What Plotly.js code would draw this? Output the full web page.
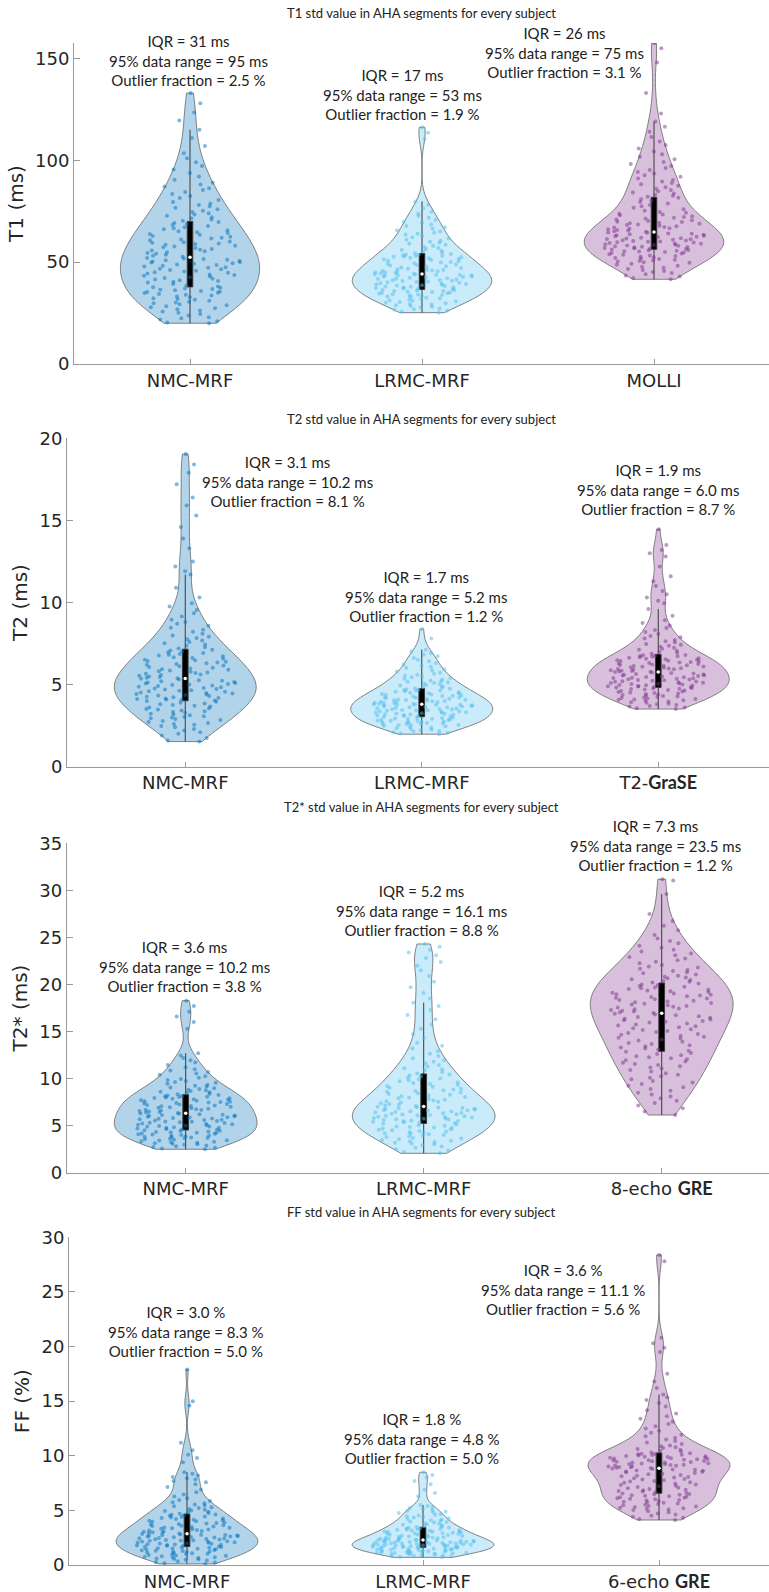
<!DOCTYPE html>
<html>
<head>
<meta charset="utf-8">
<script src="https://cdn.plot.ly/plotly-3.0.1.min.js"></script>
<style>
html,body{margin:0;padding:0;background:#ffffff;overflow:hidden;}
#chart{width:769px;height:1592px;}
</style>
</head>
<body>
<div id="chart"></div>
<script>
// ---------------- DATA ----------------
const panelTitles = [
  'T1 std value in AHA segments for every subject',
  'T2 std value in AHA segments for every subject',
  'T2* std value in AHA segments for every subject',
  'FF std value in AHA segments for every subject'
];
const yTitles = ['T1 (ms)', 'T2 (ms)', 'T2* (ms)', 'FF (%)'];

const t1Categories  = ['NMC-MRF', 'LRMC-MRF', 'MOLLI'];
const t2Categories  = ['NMC-MRF', 'LRMC-MRF', 'T2-<span style="font-family:Lato;font-weight:700">GraSE</span>'];
const t2sCategories = ['NMC-MRF', 'LRMC-MRF', '8-echo <span style="font-family:Lato;font-weight:700">GRE</span>'];
const ffCategories  = ['NMC-MRF', 'LRMC-MRF', '6-echo <span style="font-family:Lato;font-weight:700">GRE</span>'];

// summary statistics printed above each violin
const t1IQR = ['31 ms', '17 ms', '26 ms'];
const t1Range95 = ['95 ms', '53 ms', '75 ms'];
const t1Outlier = ['2.5 %', '1.9 %', '3.1 %'];
const t2IQR = ['3.1 ms', '1.7 ms', '1.9 ms'];
const t2Range95 = ['10.2 ms', '5.2 ms', '6.0 ms'];
const t2Outlier = ['8.1 %', '1.2 %', '8.7 %'];
const t2sIQR = ['3.6 ms', '5.2 ms', '7.3 ms'];
const t2sRange95 = ['10.2 ms', '16.1 ms', '23.5 ms'];
const t2sOutlier = ['3.8 %', '8.8 %', '1.2 %'];
const ffIQR = ['3.0 %', '1.8 %', '3.6 %'];
const ffRange95 = ['8.3 %', '4.8 %', '11.1 %'];
const ffOutlier = ['5.0 %', '5.0 %', '5.6 %'];

// per-segment std values (160 AHA segments per method)
const t1NMC = [20,20.4,21,21.8,22.5,23,23.8,24.6,
25.2,25.8,26.3,26.9,27.4,27.9,28.3,28.8,29.3,29.8,
30.2,30.6,31,31.5,31.9,32.3,32.8,33.2,33.6,34,34.4,34.8,
35,35.3,35.6,35.9,36.2,36.5,36.8,37.1,37.4,37.7,38,38.6,39.3,
40,40.4,40.7,41.1,41.5,41.8,42.2,42.6,43,43.3,43.7,44,44.4,44.8,
45.1,45.4,45.8,46.1,46.5,46.8,47.2,47.5,47.9,48.2,48.6,48.9,49.2,49.5,49.8,
50.1,50.3,50.6,50.9,51.2,51.5,51.8,52.1,52.6,53.1,53.6,54.1,54.5,54.9,
55.3,55.7,56.1,56.5,56.9,57.3,57.7,58.1,58.5,58.9,59.2,59.5,59.8,
60.2,60.7,61.1,61.6,62,62.5,62.9,63.4,63.8,64.3,64.7,
65.2,65.7,66.2,66.7,67.2,67.7,68.2,68.7,69.2,69.7,
70.3,70.9,71.5,72.1,72.8,73.4,74,74.6,
75.3,76,76.7,77.4,78.1,78.8,79.5,
80.5,81.5,82.5,83.5,84.5,
85.4,86.3,87.2,88.1,89,
90.5,92,93.8,
95.5,97.2,99,
101,103.5,
107,
111,115,
119.5,123.5,128,133];

const t1LRMC = [25.2,25.7,26.1,26.6,26.9,27.3,27.8,28.1,28.5,28.9,29.2,29.5,29.8,
30.1,30.4,30.8,31,31.3,31.7,31.9,32.2,32.5,32.9,33.1,33.4,33.6,33.9,34.1,34.3,34.6,34.7,34.9,
35.1,35.3,35.5,35.8,35.9,36.1,36.3,36.5,
36.7,36.9,37.1,37.3,37.5,37.7,37.9,38.1,38.3,38.5,38.7,38.9,39.1,39.3,39.5,39.7,39.9,40.1,40.3,40.5,
40.7,40.9,41.1,41.3,41.5,41.7,41.9,42.1,42.3,42.5,42.7,42.9,43.1,43.3,43.5,43.6,43.7,43.8,43.9,44.1,
44.3,44.5,44.7,44.9,45.1,45.3,45.5,45.7,45.9,46.1,46.3,46.5,
46.8,47.1,47.4,47.7,48,48.3,48.6,48.9,49.2,49.5,49.8,50.1,50.4,50.7,51,51.3,51.6,51.9,52.2,
52.4,52.6,52.8,53,53.2,53.4,53.6,53.8,54,
54.4,54.8,55.2,55.6,56,56.5,57,57.5,58,58.5,59,59.5,60,
60.5,61,61.6,62.2,62.8,63.4,64,64.5,65,
65.7,66.4,67.1,67.8,68.5,69.2,69.9,
70.8,71.8,72.8,73.8,74.8,
76.5,78.2,79.8,
110.5,113.5,116.2];

const t1MOLLI = [41.6,42.2,42.9,43.5,44.1,44.7,
45.2,45.7,46.2,46.7,47.2,47.7,48.2,48.7,49.2,49.7,
50,50.3,50.6,50.9,51.2,51.5,51.8,52.1,52.4,52.7,53,53.3,53.6,53.9,54.2,54.5,54.8,
55,55.2,55.4,55.6,55.8,56,56.2,
56.4,56.6,56.8,57,57.2,57.4,57.6,57.8,58,58.2,58.4,58.6,58.8,59,59.2,59.4,59.6,59.8,
60,60.2,60.4,60.6,60.8,61,61.2,61.4,61.6,61.8,62,62.3,62.5,62.7,63,63.2,63.4,63.7,63.9,64.1,64.4,64.6,
64.9,65.2,65.5,65.8,66.1,66.4,66.7,67,67.3,67.6,67.9,68.2,68.5,68.8,69.1,69.4,69.7,69.9,
70.2,70.6,71,71.4,71.8,72.2,72.6,73,73.4,73.8,74.2,74.6,
75.3,76,76.7,77.4,78.1,78.8,79.5,80.2,80.9,81.6,
82.1,82.6,83.1,83.7,84.2,84.8,
85.4,86.1,86.8,87.5,88.2,88.9,89.6,
90.3,91.1,91.9,92.7,93.5,94.3,
95.2,96.2,97.2,98.2,99.2,
100.5,101.8,103,104.3,
105.8,107.5,109.2,
111.5,114,116.5,119,
123,133,148,155,157.5];

const t2NMC = [1.53,1.6,1.75,1.9,2.0,2.1,2.2,2.3,2.4,2.48,
2.55,2.6,2.66,2.72,2.78,2.84,2.9,2.95,2.99,
3.03,3.08,3.13,3.18,3.23,3.28,3.33,3.38,3.43,3.48,
3.52,3.56,3.61,3.66,3.71,3.76,3.8,3.85,3.9,3.95,4.0,
4.03,4.06,4.09,4.12,4.16,4.19,4.23,4.26,4.3,4.33,4.37,4.4,4.43,4.46,4.49,
4.52,4.56,4.59,4.63,4.66,4.7,4.73,4.77,4.8,4.84,4.87,4.91,4.94,4.98,
5.01,5.04,5.07,5.1,5.13,5.16,5.2,5.23,5.27,5.31,5.35,
5.38,5.42,5.46,5.5,5.54,5.58,5.62,5.66,5.7,5.74,5.78,5.82,5.86,5.9,5.94,5.98,
6.03,6.07,6.12,6.16,6.21,6.25,6.3,6.34,6.39,6.43,6.48,
6.52,6.57,6.62,6.67,6.72,6.77,6.82,6.87,6.92,6.97,7.02,7.07,7.12,
7.2,7.28,7.36,7.44,7.52,7.6,7.68,7.76,7.84,7.92,7.99,
8.1,8.22,8.34,8.46,8.58,8.7,8.82,8.95,
9.15,9.35,9.55,9.75,9.95,
10.3,10.9,11.7,
11.9,12.2,12.5,13.3,13.9,14.6,15.3,15.9,16.4,17.2,17.9,18.4,19.04];

const t2LRMC = [1.98,2.02,2.06,2.1,2.14,2.18,2.22,2.26,2.3,2.34,2.38,2.42,2.46,2.49,
2.52,2.54,2.56,2.58,2.6,2.62,2.64,2.66,2.68,2.7,2.72,2.74,2.76,2.78,2.8,2.82,2.84,2.86,2.88,2.9,2.92,2.94,2.96,2.98,3.0,3.03,
3.06,3.08,3.1,3.12,3.14,3.16,3.18,3.2,3.22,3.24,3.26,3.28,3.3,3.32,3.34,3.36,3.38,3.4,3.42,3.44,
3.46,3.48,3.5,3.52,3.54,3.56,3.58,3.6,3.62,3.64,3.66,3.68,3.7,3.72,3.74,3.76,3.77,3.78,3.79,3.8,
3.82,3.84,3.86,3.88,3.9,3.92,3.94,3.96,3.98,4.0,4.02,4.04,4.06,4.08,4.1,4.12,4.14,4.17,4.2,4.22,4.24,
4.27,4.3,4.32,4.35,4.38,4.4,4.43,4.46,4.48,4.51,4.54,4.56,4.59,4.62,4.64,4.67,4.7,4.72,4.74,
4.78,4.82,4.86,4.9,4.94,4.98,5.02,5.06,5.1,5.14,5.18,5.21,5.24,
5.3,5.35,5.4,5.45,5.5,5.55,5.6,5.66,5.72,
5.8,5.87,5.94,6.01,6.08,6.15,6.22,
6.32,6.42,6.52,6.62,6.72,
6.82,6.92,7.02,7.13,
7.8,8.39];

const t2GraSE = [3.51,3.56,3.61,3.66,3.7,3.75,3.8,3.84,3.89,3.93,3.97,
4.01,4.04,4.07,4.1,4.13,4.16,4.19,4.22,4.25,4.28,4.31,4.34,4.37,4.4,4.43,4.46,4.49,4.52,4.55,4.58,4.61,4.64,4.67,4.7,4.73,4.75,4.77,4.79,4.82,
4.84,4.86,4.88,4.9,4.92,4.94,4.96,4.98,5.0,5.03,5.05,5.07,5.1,5.12,5.14,5.17,5.19,5.21,5.24,5.26,
5.28,5.31,5.33,5.35,5.38,5.4,5.42,5.45,5.47,5.5,5.52,5.55,5.57,5.6,5.62,5.65,5.68,5.71,5.73,5.76,
5.78,5.8,5.83,5.85,5.88,5.9,5.93,5.95,5.98,6.0,6.03,6.05,6.08,6.1,6.13,6.15,6.18,6.2,6.23,6.25,
6.28,6.31,6.34,6.37,6.4,6.43,6.46,6.49,6.52,6.55,6.58,6.61,6.64,6.67,6.7,6.72,6.74,6.76,6.78,6.81,
6.88,6.94,7.0,7.06,7.12,7.18,7.24,7.3,7.36,7.42,7.48,
7.56,7.64,7.72,7.8,7.88,7.96,
8.08,8.2,8.32,8.45,
8.6,8.75,8.92,
9.2,9.6,
9.95,10.1,10.3,10.5,10.7,11.0,11.3,11.6,12.2,12.8,13.0,13.2,13.5,14.46];

const t2sNMC = [2.49,2.56,2.64,2.72,2.8,2.88,2.96,
3.02,3.08,3.13,3.19,3.24,3.3,3.35,3.41,3.46,
3.51,3.56,3.6,3.65,3.69,3.74,3.78,3.83,3.87,3.92,3.96,
4.01,4.05,4.09,4.13,4.17,4.21,4.25,4.29,4.33,4.37,4.42,4.47,4.52,
4.56,4.6,4.65,4.69,4.74,4.78,4.83,4.87,4.92,4.96,
5.0,5.05,5.09,5.14,5.18,5.23,5.27,5.32,5.36,5.41,
5.45,5.5,5.54,5.59,5.63,5.68,5.72,5.77,5.81,5.86,
5.9,5.95,5.99,6.04,6.08,6.13,6.17,6.22,6.26,6.3,
6.35,6.4,6.45,6.5,6.55,6.6,6.65,6.7,6.75,6.8,
6.85,6.9,6.95,7.0,7.05,7.1,7.15,7.2,7.25,7.3,
7.35,7.4,7.45,7.5,7.55,7.6,7.65,7.7,7.75,7.8,
7.85,7.9,7.95,8.0,8.04,8.08,8.12,8.16,8.2,8.25,
8.33,8.4,8.47,8.54,8.61,8.68,8.75,8.82,8.89,8.96,
9.05,9.15,9.25,9.35,9.45,9.55,9.65,9.75,9.85,9.95,
10.1,10.25,10.4,10.55,10.7,10.85,10.98,
11.2,11.45,11.7,11.95,
12.2,12.45,12.69,
15.3,16.0,16.6,17.1,17.7,18.28];

const t2sLRMC = [2.06,2.2,2.35,2.5,2.64,2.78,2.92,
3.03,3.1,3.18,3.25,3.33,3.4,3.48,3.55,3.63,3.7,3.78,3.86,3.94,
4.02,4.08,4.14,4.2,4.26,4.32,4.38,4.44,4.5,4.56,4.62,4.68,4.74,4.8,4.86,4.92,4.98,5.05,5.12,5.2,
5.28,5.32,5.37,5.41,5.46,5.5,5.55,5.59,5.64,5.68,
5.73,5.77,5.82,5.86,5.91,5.95,6.0,6.04,6.09,6.13,
6.18,6.22,6.27,6.31,6.36,6.4,6.45,6.49,6.54,6.58,
6.63,6.67,6.72,6.76,6.8,6.84,6.88,6.92,6.96,7.0,
7.08,7.15,7.23,7.3,7.38,7.45,7.53,7.6,7.68,7.75,7.83,7.9,7.97,
8.04,8.12,8.2,8.28,8.36,8.44,8.52,8.6,8.68,8.76,8.84,8.92,
9.02,9.12,9.22,9.32,9.42,9.52,9.62,9.72,9.82,9.92,10.02,10.12,10.22,10.32,10.44,
10.55,10.7,10.85,10.98,
11.1,11.28,11.45,11.62,11.8,11.96,
12.15,12.4,12.65,12.9,
13.2,13.5,13.8,
14.3,14.75,
15.3,15.75,
16.3,16.75,
17.3,17.7,18.07,
18.5,19.1,19.7,20.3,20.9,21.5,22.0,22.4,22.8,23.1,23.4,23.7,24.0,24.3];

const t2sGRE = [6.13,6.5,6.85,
7.15,7.4,7.65,7.9,
8.1,8.3,8.5,8.7,8.9,
9.08,9.25,9.42,9.58,9.75,9.92,
10.08,10.25,10.42,10.58,10.75,10.92,
11.06,11.19,11.31,11.44,11.56,11.69,11.81,11.94,
12.05,12.16,12.27,12.38,12.49,12.6,12.71,12.85,
12.95,13.07,13.19,13.31,13.43,13.55,13.67,13.79,13.92,
14.05,14.15,14.25,14.35,14.45,14.55,14.65,14.75,14.85,14.95,
15.05,15.15,15.25,15.35,15.45,15.55,15.65,15.75,15.85,15.95,
16.03,16.12,16.2,16.29,16.37,16.46,16.55,16.63,16.72,16.8,16.9,
16.98,17.06,17.14,17.22,17.3,17.38,17.46,17.54,17.62,17.7,17.78,17.86,17.94,
18.02,18.1,18.18,18.26,18.34,18.42,18.5,18.58,18.66,18.74,18.82,18.9,18.97,
19.05,19.13,19.21,19.29,19.37,19.45,19.53,19.61,19.69,19.77,19.85,19.93,20.01,20.1,
20.2,20.29,20.38,20.47,20.56,20.65,20.74,20.83,20.93,
21.06,21.18,21.3,21.42,21.55,21.68,21.8,21.92,
22.08,22.25,22.42,22.58,22.75,22.92,
23.1,23.3,23.5,23.7,23.9,
24.12,24.38,24.62,24.88,
25.25,25.75,
26.25,26.75,
27.5,
29.6,
31.05,31.18];

const ffNMC = [0.1,0.15,0.22,0.28,0.35,0.41,0.47,
0.52,0.56,0.6,0.64,0.68,0.72,0.76,0.8,0.84,0.88,0.92,0.97,
1.01,1.04,1.08,1.11,1.14,1.18,1.21,1.24,1.28,1.31,1.34,1.38,1.41,1.44,1.48,1.51,1.54,1.58,1.61,1.64,1.67,
1.7,1.73,1.76,1.79,1.82,1.85,1.88,1.91,1.94,1.97,
2.0,2.03,2.06,2.09,2.12,2.15,2.18,2.21,2.24,2.27,
2.3,2.33,2.36,2.39,2.42,2.45,2.48,2.51,2.54,2.57,
2.6,2.62,2.65,2.67,2.7,2.72,2.75,2.77,2.8,2.83,
2.88,2.92,2.96,3.0,3.04,3.08,3.12,3.16,3.2,3.24,
3.28,3.32,3.36,3.4,3.44,3.48,3.52,3.56,3.6,3.65,
3.7,3.75,3.8,3.85,3.9,3.95,4.0,4.05,4.1,4.15,
4.2,4.25,4.3,4.35,4.4,4.45,4.5,4.55,4.59,4.63,
4.7,4.76,4.82,4.88,4.94,4.99,
5.05,5.13,5.21,5.29,5.37,5.45,
5.55,5.65,5.75,5.85,5.95,
6.1,6.28,6.45,
6.65,6.9,
7.15,7.4,
7.58,7.7,7.82,7.94,
8.06,8.2,8.35,8.49,
9.4,9.8,10.1,10.5,11.2,14.6,15.0,17.9];

const ffLRMC = [0.7,0.74,0.78,0.81,0.85,0.88,0.92,0.95,0.98,
1.01,1.03,1.05,1.07,1.09,1.11,1.13,1.15,1.17,1.19,
1.21,1.23,1.25,1.27,1.29,1.31,1.33,1.35,1.37,1.39,
1.41,1.43,1.45,1.47,1.49,1.51,1.53,1.55,1.57,1.59,1.61,
1.63,1.65,1.66,1.68,1.7,1.71,1.73,1.75,1.76,1.78,
1.8,1.81,1.83,1.85,1.86,1.88,1.9,1.91,1.93,1.95,
1.96,1.98,2.0,2.01,2.03,2.05,2.06,2.08,2.1,2.11,
2.13,2.15,2.16,2.18,2.2,2.21,2.23,2.25,2.26,2.28,
2.31,2.34,2.36,2.39,2.41,2.44,2.46,2.49,2.51,2.54,
2.56,2.59,2.62,2.65,2.68,2.71,2.74,2.77,2.8,2.83,
2.86,2.89,2.92,2.95,2.98,3.01,3.04,3.07,3.1,3.13,
3.16,3.19,3.22,3.25,3.28,3.31,3.34,3.37,3.4,3.44,
3.48,3.53,3.58,3.63,3.68,3.73,3.78,3.83,3.88,3.93,3.98,
4.04,4.1,4.16,4.22,4.28,4.34,4.4,4.46,
4.54,4.61,4.68,4.75,4.82,4.89,4.96,
5.06,5.14,5.22,5.3,5.4,5.49,
6.3,6.6,6.9,7.4,7.7,8.0,8.25,8.49];

const ffGRE = [4.12,4.22,4.32,4.42,4.52,4.62,4.72,4.82,4.92,
5.03,5.08,5.14,5.19,5.25,5.3,5.36,5.41,5.47,5.52,5.58,5.63,5.69,5.74,5.8,5.85,5.91,5.96,
6.02,6.06,6.11,6.15,6.2,6.24,6.29,6.33,6.38,6.42,6.47,6.51,6.55,
6.6,6.66,6.72,6.78,6.84,6.9,6.96,7.02,7.08,7.14,7.2,7.26,7.32,7.38,7.45,
7.52,7.58,7.64,7.7,7.76,7.82,7.88,7.94,8.0,8.06,8.12,8.18,8.24,8.3,8.36,8.42,8.48,
8.53,8.57,8.62,8.66,8.71,8.75,8.79,8.84,
8.87,8.9,8.94,8.97,9.01,9.04,9.08,9.11,9.15,9.18,
9.22,9.25,9.29,9.32,9.36,9.39,9.43,9.46,9.5,9.53,
9.57,9.6,9.64,9.67,9.71,9.74,9.78,9.81,9.85,9.88,
9.92,9.95,9.99,10.02,10.06,10.09,10.13,10.16,10.19,10.22,
10.3,10.38,10.46,10.54,10.62,10.7,10.78,10.86,10.95,
11.08,11.22,11.36,11.5,11.64,11.78,11.92,
12.1,12.3,12.5,12.7,12.9,
13.12,13.38,13.62,13.88,
14.17,14.5,14.83,
15.1,15.35,15.6,
16.2,16.8,17.5,19.5,19.9,20.3,20.8,27.8,28.39];

// ---------------- STYLE / LAYOUT ----------------
const methodColors = ['#0072BD', '#4DBEEE', '#7E2F8E'];
const fillColors = ['rgba(0,114,189,0.30)', 'rgba(77,190,238,0.30)', 'rgba(126,47,142,0.30)'];

const panels = [
  {cats: t1Categories,  series: [t1NMC, t1LRMC, t1MOLLI],  iqr: t1IQR,  r95: t1Range95,  out: t1Outlier},
  {cats: t2Categories,  series: [t2NMC, t2LRMC, t2GraSE],  iqr: t2IQR,  r95: t2Range95,  out: t2Outlier},
  {cats: t2sCategories, series: [t2sNMC, t2sLRMC, t2sGRE], iqr: t2sIQR, r95: t2sRange95, out: t2sOutlier},
  {cats: ffCategories,  series: [ffNMC, ffLRMC, ffGRE],    iqr: ffIQR,  r95: ffRange95,  out: ffOutlier}
];

// geometry in pixels of the 769 x 1592 page
const W = 769, H = 1592;
const geo = [
  {left: 74,   spacing: 232,   top: 43,    bottom: 364,    ymax: 157.6, dtick: 50, titleY: 13,
   notes: [[0.995, 149.2], [1.916, 132.2], [2.616, 153]]},
  {left: 67,   spacing: 236.5, top: 438.3, bottom: 766.7,  ymax: 20,    dtick: 5,  titleY: 419,
   notes: [[1.431, 17.37], [2.016, 10.35], [3.0, 16.9]]},
  {left: 66.7, spacing: 238,   top: 843.3, bottom: 1172.7, ymax: 35,    dtick: 5,  titleY: 807,
   notes: [[0.995, 21.9], [1.99, 27.9], [2.976, 34.8]]},
  {left: 69,   spacing: 236,   top: 1237.3, bottom: 1565,  ymax: 30,    dtick: 5,  titleY: 1212,
   notes: [[0.997, 21.36], [1.997, 11.54], [2.593, 25.26]]}
];

function median(a) {
  const s = a.slice().sort((p, q) => p - q);
  const n = s.length;
  return n % 2 ? s[(n - 1) / 2] : (s[n / 2 - 1] + s[n / 2]) / 2;
}

const tickFont = {family: 'DejaVu Sans', size: 18, color: '#262626'};
const axisGrey = '#9a9a9a';

const traces = [];
const medianTraces = [];
const layout = {
  width: W, height: H,
  margin: {l: 0, r: 0, t: 0, b: 0},
  paper_bgcolor: '#ffffff', plot_bgcolor: 'rgba(0,0,0,0)',
  showlegend: false, hovermode: false,
  violinmode: 'overlay',
  annotations: []
};

panels.forEach((p, k) => {
  const g = geo[k];
  const sfx = k === 0 ? '' : String(k + 1);
  const xa = 'x' + sfx, ya = 'y' + sfx;
  p.series.forEach((vals, i) => {
    traces.push({
      type: 'violin', x0: i + 1, y: vals, xaxis: xa, yaxis: ya,
      width: 0.6, scalemode: 'width', spanmode: 'hard', side: 'both',
      fillcolor: fillColors[i],
      line: {color: '#666666', width: 0.8},
      points: 'all', jitter: 0.72, pointpos: 0,
      marker: {color: methodColors[i], size: 4, opacity: 0.5, line: {width: 0}},
      box: {visible: true, width: 0.04, fillcolor: '#000000', line: {color: '#3a3a3a', width: 1}},
      meanline: {visible: false},
      hoverinfo: 'skip'
    });
    medianTraces.push({
      type: 'scatter', mode: 'markers', x: [i + 1], y: [median(vals)], xaxis: xa, yaxis: ya,
      marker: {color: '#ffffff', size: 3.5, line: {width: 0}}, hoverinfo: 'skip', cliponaxis: false
    });
    const n = g.notes[i];
    layout.annotations.push({
      xref: xa, yref: ya, x: n[0], y: n[1], showarrow: false,
      xanchor: 'center', yanchor: 'middle', align: 'center',
      text: 'IQR = ' + p.iqr[i] + '<br>95% data range = ' + p.r95[i] + '<br>Outlier fraction = ' + p.out[i],
      font: {family: 'Lato', size: 15, color: '#222222'}
    });
  });
  layout.annotations.push({
    xref: 'paper', yref: 'paper', x: 421 / W, y: 1 - g.titleY / H, showarrow: false,
    xanchor: 'center', yanchor: 'middle', text: panelTitles[k],
    font: {family: 'Lato', size: 13, color: '#222222'}
  });
  layout['xaxis' + sfx] = {
    domain: [g.left / W, 1], range: [0.5, 0.5 + (W - g.left) / g.spacing],
    anchor: ya, tickmode: 'array', tickvals: [1, 2, 3], ticktext: p.cats,
    ticks: 'inside', ticklen: 5, tickcolor: axisGrey, tickwidth: 1,
    showline: true, linecolor: axisGrey, linewidth: 1,
    showgrid: false, zeroline: false, tickfont: tickFont, fixedrange: true
  };
  layout['yaxis' + sfx] = {
    domain: [1 - g.bottom / H, 1 - g.top / H], range: [0, g.ymax],
    anchor: xa, tick0: 0, dtick: g.dtick,
    ticks: 'inside', ticklen: 6, tickcolor: axisGrey, tickwidth: 1,
    showline: true, linecolor: axisGrey, linewidth: 1,
    showgrid: false, zeroline: false, tickfont: tickFont, fixedrange: true,
    title: {text: yTitles[k], font: {family: 'DejaVu Sans', size: 20, color: '#262626'}, standoff: 6}
  };
});

Plotly.newPlot('chart', traces.concat(medianTraces), layout, {staticPlot: true, displayModeBar: false});
</script>
</body>
</html>
